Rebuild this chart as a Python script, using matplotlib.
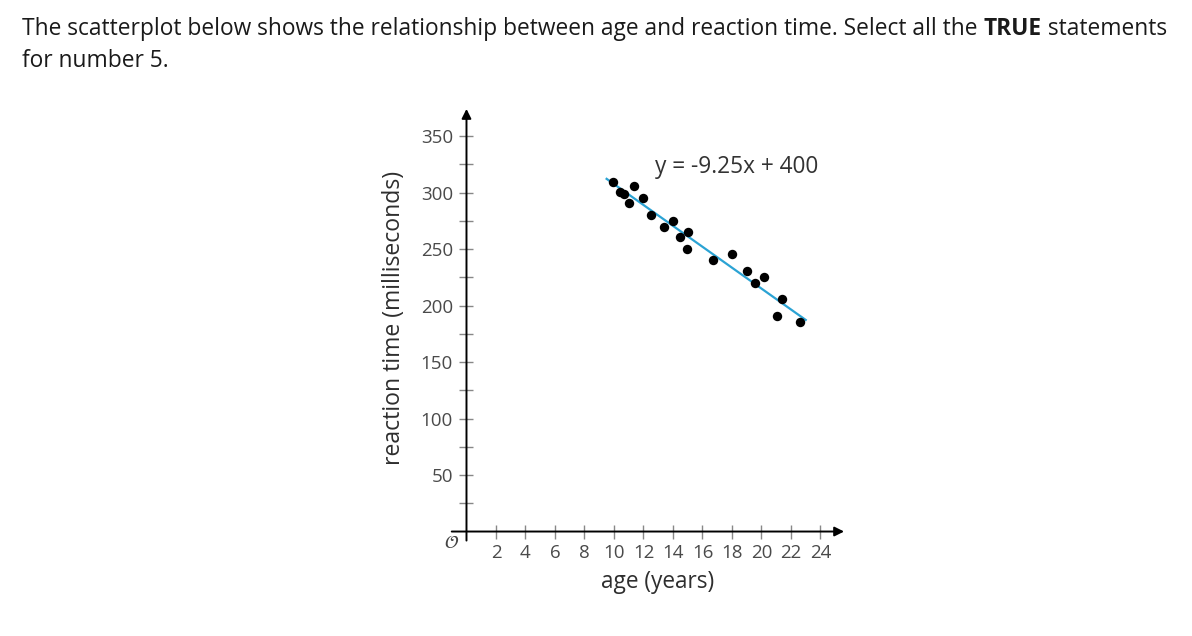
import numpy as np
import matplotlib.pyplot as plt

plt.rcParams['font.family'] = ['Open Sans', 'DejaVu Sans']

# data
age = [9.95, 10.43, 10.68, 11.38, 11.04, 11.99, 12.51, 13.39, 14.02, 14.47,
       15.0, 14.97, 16.69, 18.02, 19.0, 19.58, 20.17, 21.39, 21.03, 22.61]
reaction = [309, 300.7, 298.4, 306, 290.4, 294.9, 280.1, 269.7, 275, 260.4,
            265.3, 250, 240.3, 245.3, 230.8, 220.2, 225.5, 205.8, 191, 185.1]
slope, intercept = -9.25, 400
x_ticks = list(range(2, 25, 2))
y_major = list(range(50, 351, 50))
y_minor = list(range(25, 326, 50))

fig = plt.figure(figsize=(11.92, 6.36), dpi=100)

# question text at the top, with TRUE in bold
txt_color = '#1a1a1a'
fs = 16.35
line1_y = 1 - 29 / 636
t1 = fig.text(22 / 1192, line1_y,
              'The scatterplot below shows the relationship between age and reaction time. Select all the ',
              fontsize=fs, color=txt_color, va='center', ha='left')
fig.canvas.draw()
r = fig.canvas.get_renderer()
bb = t1.get_window_extent(r)
t2 = fig.text(bb.x1 / 1192, line1_y, 'TRUE', fontsize=fs, fontweight='bold',
              color=txt_color, va='center', ha='left')
bb2 = t2.get_window_extent(r)
fig.text(bb2.x1 / 1192, line1_y, ' statements', fontsize=fs, color=txt_color,
         va='center', ha='left')
fig.text(22 / 1192, 1 - 61 / 636, 'for number 5.', fontsize=fs, color=txt_color,
         va='center', ha='left')

# axes placed so that the origin lands where it does in the picture
x0, x1, y0, y1 = -1.2, 25.8, -10, 375
ax = fig.add_axes([0.3765, 0.1465, 0.3341, 0.684])
ax.set_xlim(x0, x1)
ax.set_ylim(y0, y1)
for s in ax.spines.values():
    s.set_visible(False)
ax.spines['left'].set_position(('data', 0))
ax.spines['bottom'].set_position(('data', 0))

# axis lines with arrow heads
ax.annotate('', xy=(25.6, 0), xytext=(-1.0, 0),
            arrowprops=dict(arrowstyle='-|>', color='black', lw=1.4, mutation_scale=14,
                            shrinkA=0, shrinkB=0))
ax.annotate('', xy=(0, 374), xytext=(0, -8),
            arrowprops=dict(arrowstyle='-|>', color='black', lw=1.4, mutation_scale=14,
                            shrinkA=0, shrinkB=0))

ax.set_xticks(x_ticks)
ax.set_xticklabels([str(v) for v in x_ticks])
ax.set_yticks(y_major)
ax.set_yticklabels([str(v) for v in y_major])
ax.set_yticks(y_minor, minor=True)
ax.tick_params(which='both', direction='inout', length=9.5, width=1, color='#888888',
               labelsize=13.5, labelcolor='#4a4a4a')
ax.tick_params(axis='x', pad=4)
ax.tick_params(axis='y', pad=5)

# fit line and points
xl = np.array([9.5, 23.0])
ax.plot(xl, slope * xl + intercept, color='#2ba3d4', lw=1.6, zorder=2)
ax.scatter(age, reaction, s=46, color='black', zorder=3, linewidths=0)
ax.text(12.78, 322.8, 'y = -9.25x + 400', fontsize=16.3, color='#333333',
        ha='left', va='center')

ax.text(-1.0, -10.5, r'$\mathcal{O}$', fontsize=13, color='#444444', ha='center', va='center')

ax.set_xlabel('age (years)', fontsize=16.3, color='#2e2e2e', va='center')
ax.set_ylabel('reaction time (milliseconds)', fontsize=16.6, color='#2e2e2e', va='center')
ax.xaxis.set_label_coords(0.525, -0.090)
ax.yaxis.set_label_coords(-0.1376, 0.517)

fig.savefig('out.png', dpi=100)
